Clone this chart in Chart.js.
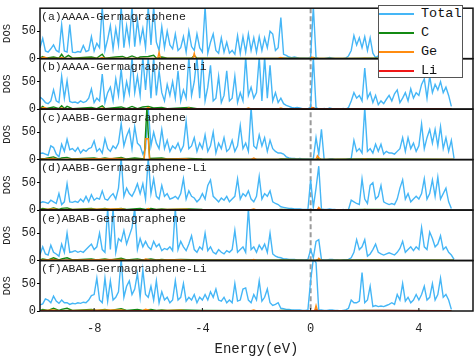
<!DOCTYPE html>
<html><head><meta charset="utf-8">
<script src="https://cdn.jsdelivr.net/npm/chart.js@4.4.1/dist/chart.umd.min.js"></script>
<style>
html,body{margin:0;padding:0;background:#fff;}
#wrap{position:relative;width:476px;height:359px;}
#legend{position:absolute;left:378px;top:5px;width:83px;height:71px;background:#fff;border:1px solid #555;font-family:"Liberation Mono",monospace;font-size:13.5px;color:#111;}
.row{position:absolute;left:0;width:83px;height:18px;}
.row .l{position:absolute;left:0;top:8px;width:35px;height:2px;}
.row .t{position:absolute;left:42px;top:0;line-height:18px;}
</style></head>
<body>
<div id="wrap">
<canvas id="c" width="476" height="359"></canvas>
<div id="legend"></div>
</div>
<script>
// ---------- data ----------
const panelNames = ['(a)AAAA-Germagraphene','(b)AAAA-Germagraphene-Li','(c)AABB-Germagraphene','(d)AABB-Germagraphene-Li','(e)ABAB-Germagraphene','(f)ABAB-Germagraphene-Li'];
const seriesNames = ['Total','C','Ge','Li'];
const xTicks = [-8,-4,0,4];
const yTicks = [0,50];
const energies = [
-10,-9.9,-9.8,-9.7,-9.6,-9.5,-9.4,-9.3,-9.2,-9.1,
-9,-8.9,-8.8,-8.7,-8.6,-8.5,-8.4,-8.3,-8.2,-8.1,
-8,-7.9,-7.8,-7.7,-7.6,-7.5,-7.4,-7.3,-7.2,-7.1,
-7,-6.9,-6.8,-6.7,-6.6,-6.5,-6.4,-6.3,-6.2,-6.1,
-6,-5.9,-5.8,-5.7,-5.6,-5.5,-5.4,-5.3,-5.2,-5.1,
-5,-4.9,-4.8,-4.7,-4.6,-4.5,-4.4,-4.3,-4.2,-4.1,
-4,-3.9,-3.8,-3.7,-3.6,-3.5,-3.4,-3.3,-3.2,-3.1,
-3,-2.9,-2.8,-2.7,-2.6,-2.5,-2.4,-2.3,-2.2,-2.1,
-2,-1.9,-1.8,-1.7,-1.6,-1.5,-1.4,-1.3,-1.2,-1.1,
-1,-0.9,-0.8,-0.7,-0.6,-0.5,-0.4,-0.3,-0.2,-0.1,
0,0.1,0.2,0.3,0.4,0.5,0.6,0.7,0.8,0.9,
1,1.1,1.2,1.3,1.4,1.5,1.6,1.7,1.8,1.9,
2,2.1,2.2,2.3,2.4,2.5,2.6,2.7,2.8,2.9,
3,3.1,3.2,3.3,3.4,3.5,3.6,3.7,3.8,3.9,
4,4.1,4.2,4.3,4.4,4.5,4.6,4.7,4.8,4.9,
5,5.1,5.2,5.3,5.4];

const totalA = [
20,37,14,12,18,25,15,12,62,14,
12,62,12,11,13,12,24,13,15,40,
14,28,20,95,15,35,60,18,55,25,
95,20,60,28,95,22,70,30,55,20,
95,25,95,30,15,58,20,50,25,18,
45,15,20,40,12,50,22,15,45,20,
12,95,10,30,45,15,10,38,12,30,
10,15,8,42,10,40,12,45,15,38,
12,40,15,38,20,50,45,15,20,75,
8,6,3,2,3,2,1,1,1,1,
2,95,2,0,0,0,1,2,1,0,
0,0,0,1,5,15,42,25,38,20,
40,15,38,10,2,5,10,15,20,12,
15,25,10,30,12,20,35,15,30,20,
45,20,50,30,55,25,45,30,50,25,
40,20,30,0,null];
const totalB = [
22,18,12,10,15,35,15,12,60,20,
52,14,12,13,11,15,12,14,20,37,
12,20,15,64,12,30,40,15,55,25,
73,20,50,28,95,30,60,25,95,35,
95,20,95,25,70,30,15,45,25,50,
20,70,15,35,20,95,25,50,95,20,
95,15,40,80,15,20,60,12,25,70,
15,20,60,12,30,15,95,25,40,20,
30,95,15,95,20,80,15,30,12,20,
10,7,5,3,2,3,2,1,1,1,
3,95,3,0,0,1,0,2,1,0,
0,0,1,0,3,15,30,20,25,15,
75,20,30,12,25,8,15,10,18,25,
15,28,35,12,20,30,15,37,20,30,
25,45,55,20,60,30,45,35,50,30,
40,25,5,null,null];
const totalC = [
11,12,10,8,25,22,10,5,28,15,
37,18,20,15,22,12,18,15,20,22,
34,15,20,12,38,20,15,25,20,30,
66,25,43,55,20,60,30,25,10,20,
95,25,50,30,20,55,20,35,15,25,
20,30,15,25,70,20,25,40,15,30,
20,45,15,25,50,12,30,20,40,15,
20,35,15,25,62,20,30,15,95,25,
20,45,25,40,15,35,20,15,12,12,
10,5,3,2,2,1,2,1,1,1,
1,2,40,10,55,0,0,1,1,0,
0,0,0,0,1,2,35,15,20,12,
95,15,20,12,28,15,28,10,15,12,
12,10,15,20,40,15,40,20,30,15,
25,65,20,40,55,30,55,25,60,20,
40,15,35,2,null];
const totalD = [
13,15,14,12,18,15,12,30,10,15,
48,15,14,16,14,20,15,25,15,28,
18,22,20,35,20,18,25,30,20,40,
95,25,40,30,25,35,48,30,48,20,
95,30,57,25,20,45,25,30,20,22,
25,20,30,57,20,35,25,22,15,20,
30,20,45,55,25,20,15,22,18,25,
15,20,25,57,20,30,25,35,20,15,
25,61,20,30,25,35,15,12,10,6,
5,4,3,3,2,2,2,1,1,1,
55,5,40,80,2,1,1,2,1,1,
0,0,1,0,1,18,15,12,10,57,
20,12,45,50,20,25,45,15,12,10,
12,10,20,40,55,20,30,15,20,25,
20,30,57,20,30,55,25,60,20,30,
40,15,3,null,null];
const totalE = [
11,25,12,10,28,15,12,8,30,15,
50,15,16,18,15,17,15,20,25,30,
20,25,50,20,15,95,20,95,15,40,
35,55,30,45,60,95,20,40,25,35,
25,20,35,25,30,18,22,20,25,18,
95,20,35,25,18,30,45,20,15,25,
20,50,18,25,15,12,20,15,12,18,
15,20,55,15,20,25,15,95,20,25,
15,28,20,30,15,50,12,8,6,5,
3,3,2,2,2,1,1,1,1,2,
20,5,35,38,2,1,1,2,2,1,
1,0,1,1,2,5,15,38,20,25,
38,8,12,20,30,15,12,10,12,14,
12,10,15,22,35,15,20,25,18,25,
20,60,25,20,52,40,25,30,45,20,
25,15,10,2,null];
const totalF = [
11,13,22,20,15,27,18,14,20,15,
15,12,14,13,15,14,16,15,20,28,
30,60,20,15,60,18,55,20,25,35,
95,25,45,55,30,40,68,25,75,30,
25,45,20,55,15,35,20,25,15,20,
55,20,25,50,18,25,20,30,15,25,
20,30,20,35,25,40,20,18,25,15,
20,15,50,18,20,40,42,20,15,30,
20,55,18,25,40,15,10,12,15,5,
4,3,3,2,2,2,2,1,1,2,
55,95,88,2,2,1,1,2,2,1,
1,0,1,2,5,20,15,15,18,70,
15,20,45,8,10,8,9,8,10,12,
15,12,30,20,50,18,25,15,20,30,
20,30,45,20,25,50,20,30,60,25,
30,20,3,null,null];

// partial DOS as [energy, value] pairs
const carbonA = [[-10,1],[-9.9,4],[-9.8,1],[-9.5,3],[-9.3,1],[-9.2,8],[-9.1,1],[-8.95,6],[-8.8,1],[-8.4,2],[-8.1,3],[-7.9,1],[-7.7,8],[-7.6,1],[-7.2,3],[-6.95,4],[-6.8,1],[-6.6,5],[-6.4,1],[-6.3,3],[-6,4],[-5.8,6],[-5.7,1],[-5.5,3],[-5.3,1],[-4.4,1],[-4.3,6],[-4.2,1],[-3.5,1],[-2,0.5],[-1.2,0.5],[-1.1,1],[0,0.3],[0.1,2],[0.2,0.2],[1.5,0.5],[2.2,1],[5.3,0.5]];
const carbonB = [[-10,1],[-9.9,5],[-9.8,1],[-9.5,4],[-9.3,1],[-9.2,6],[-9.1,1],[-9,5],[-8.8,1],[-8.1,3],[-7.9,1],[-7.7,6],[-7.6,1],[-7,4],[-6.8,1],[-6.6,5],[-6.4,1],[-6.2,4],[-6,5],[-5.8,2],[-5.5,3],[-5.3,1],[-4.5,3],[-4.2,1],[-3.5,1],[-2,0.5],[-1.2,0.5],[-1.1,1],[0,0.3],[0.1,2],[0.2,0.2],[2,1],[5.2,0.5]];
const carbonC = [[-10,1],[-9.8,2],[-9.5,5],[-9.3,1],[-9.2,3],[-9,4],[-8.8,1],[-8.4,2],[-8,3],[-7.8,1],[-7.6,3],[-7.4,1],[-7,4],[-6.8,1],[-6.5,3],[-6.15,1],[-6.05,95],[-5.95,2],[-5.5,3],[-5.3,1],[-4.5,2],[-4,1],[-2,0.5],[-1.2,0.5],[-1.1,1],[0,0.3],[0.2,0.3],[0.3,2],[0.4,0.2],[2,1],[5.3,0.5]];
const carbonD = [[-10,1],[-9.9,3],[-9.7,1],[-9.5,4],[-9.3,1],[-9.2,3],[-9,4],[-8.8,1],[-8.1,3],[-7.9,1],[-7.6,3],[-7.4,1],[-7,3],[-6.8,1],[-6.3,3],[-6.1,1],[-5.9,3],[-5.7,1],[-5.5,2],[-5.3,1],[-4.5,2],[-4,1],[-2,0.5],[-1.2,0.5],[-1.1,1],[0,0.3],[0.2,0.3],[0.3,2],[0.4,0.2],[2,1],[5.1,0.5]];
const carbonE = [[-10,1],[-9.9,3],[-9.7,1],[-9.5,5],[-9.3,1],[-9.2,3],[-9,5],[-8.8,1],[-8.1,3],[-7.9,1],[-7.6,3],[-7.4,1],[-7,4],[-6.8,1],[-6.4,3],[-6.2,1],[-5.9,3],[-5.7,1],[-5.5,2],[-5.3,1],[-4.8,2],[-4,1],[-2,0.5],[-1.2,0.5],[-1.1,1],[0,0.3],[0.2,0.3],[0.3,2],[0.4,0.2],[2,1],[5.3,0.5]];
const carbonF = [[-10,1],[-9.9,3],[-9.7,1],[-9.5,5],[-9.3,1],[-9.2,3],[-9,5],[-8.8,1],[-8.1,3],[-7.9,1],[-7.6,3],[-7.4,1],[-7,4],[-6.8,1],[-6.4,3],[-6.2,1],[-5.9,3],[-5.7,1],[-5.5,2],[-5.3,1],[-4.8,2],[-4,1],[-2,0.5],[-1.2,0.5],[-1.1,1],[0,0.3],[0.1,0.3],[0.2,2],[0.3,0.2],[2,1],[5.2,0.5]];
const germA = [[-10,0.5],[-9.85,3],[-9.7,0.5],[-9.3,0.5],[-9.2,2],[-9.1,0.5],[-7.8,0.5],[-7.7,2],[-7.6,0.5],[-5.65,0.5],[-5.6,12],[-5.55,0.5],[-4.35,0.5],[-4.3,10],[-4.25,0.5],[-1.2,0.5],[-1.1,2],[-1,0.3],[0,0.3],[0.05,3],[0.15,0.2],[1.9,0.2],[2,1],[2.1,0.2],[5.3,0.3]];
const germB = [[-10,0.5],[-9.85,3],[-9.7,0.5],[-9.3,0.5],[-9.2,2],[-9.1,0.5],[-7.8,0.5],[-7.7,2],[-7.6,0.5],[-6.1,0.5],[-6,3],[-5.9,0.5],[-4.6,0.5],[-4.5,2],[-4.4,0.5],[-2.4,0.5],[-2.3,2],[-2.2,0.5],[-1.2,0.5],[-1.1,2],[-1,0.3],[0,0.3],[0.05,3],[0.15,0.2],[1.9,0.2],[2,1],[2.1,0.2],[5.2,0.3]];
const germC = [[-10,0.5],[-9.5,2],[-9.3,0.5],[-8,1.5],[-7,2],[-6.8,0.5],[-6.15,0.5],[-6.1,38],[-6,38],[-5.95,0.5],[-4.6,1.5],[-4.4,0.5],[-2.2,0.5],[-2.1,3],[-2,0.3],[0.2,0.3],[0.25,7],[0.35,0.2],[1.9,0.2],[2,1],[2.1,0.2],[5.3,0.3]];
const germD = [[-10,0.5],[-9.5,2],[-9.3,0.5],[-8,1.5],[-7,2],[-6.8,0.5],[-6.1,0.5],[-6,3],[-5.9,0.5],[-4.6,1.5],[-4.4,0.5],[-2.2,0.5],[-2.1,2],[-2,0.3],[0.25,0.3],[0.3,5],[0.4,0.2],[1.9,0.2],[2,1],[2.1,0.2],[5.1,0.3]];
const germE = [[-10,0.5],[-9.5,2],[-9.3,0.5],[-8,1.5],[-7,2],[-6.8,0.5],[-6.2,0.5],[-6.1,3],[-5.9,0.5],[-4.8,1.5],[-4.6,0.5],[-2.2,0.5],[-2.1,2],[-2,0.3],[0.25,0.3],[0.3,4],[0.4,0.2],[1.9,0.2],[2,1],[2.1,0.2],[5.3,0.3]];
const germF = [[-10,0.5],[-9.5,2],[-9.3,0.5],[-8,1.5],[-7,2],[-6.8,0.5],[-6.2,0.5],[-6.1,3],[-5.9,0.5],[-4.8,1.5],[-4.6,0.5],[-2.2,0.5],[-2.1,2],[-2,0.3],[0.15,0.3],[0.2,10],[0.25,1],[0.4,0.2],[1.9,0.2],[2,1],[2.1,0.2],[5.2,0.3]];
const lithB = [[-10,0.3],[-5,0.5],[0,0.3],[0.1,1.5],[0.2,0.2],[2.7,0.8],[4.5,0.5],[5.2,0.3]];
const lithD = [[-10,0.3],[-5,0.5],[0.2,0.3],[0.3,1.5],[0.4,0.2],[2.7,0.8],[4.5,0.5],[5.1,0.3]];
const lithF = [[-10,0.3],[-5,0.5],[0.1,0.3],[0.2,1.5],[0.3,0.2],[2.7,0.8],[4.5,0.5],[5.2,0.3]];

const totals = [totalA,totalB,totalC,totalD,totalE,totalF];
const carbons = [carbonA,carbonB,carbonC,carbonD,carbonE,carbonF];
const germs = [germA,germB,germC,germD,germE,germF];
const liths = [null,lithB,null,lithD,null,lithF];

// ---------- styles ----------
const COLORS = {Total:'#45b6f6', C:'#138a13', Ge:'#ff8c10', Li:'#f01818'};
const MONO = '"Liberation Mono", "DejaVu Sans Mono", monospace';
const axisIds = ['ya','yb','yc','yd','ye','yf'];

// legend (HTML)
const leg = document.getElementById('legend');
seriesNames.forEach((n,i)=>{
  const r = document.createElement('div'); r.className='row'; r.style.top=(i*19-1)+'px';
  const l = document.createElement('span'); l.className='l'; l.style.background=COLORS[n];
  const t = document.createElement('span'); t.className='t'; t.textContent=n;
  r.appendChild(l); r.appendChild(t); leg.appendChild(r);
});

const toXY = arr => energies.map((e,i)=>({x:e,y:arr[i]}));
const pairs = arr => arr.map(p=>({x:p[0],y:p[1]}));

const datasets = [];
for (let i=0;i<6;i++){
  datasets.push({label:'Total',data:toXY(totals[i]),yAxisID:axisIds[i],borderColor:COLORS.Total,borderWidth:1.4,pointRadius:0,order:4,spanGaps:false});
  datasets.push({label:'C',data:pairs(carbons[i]),yAxisID:axisIds[i],borderColor:COLORS.C,borderWidth:1.4,pointRadius:0,order:3});
  datasets.push({label:'Ge',data:pairs(germs[i]),yAxisID:axisIds[i],borderColor:COLORS.Ge,borderWidth:1.4,pointRadius:0,order:2});
  if (liths[i]) datasets.push({label:'Li',data:pairs(liths[i]),yAxisID:axisIds[i],borderColor:COLORS.Li,borderWidth:1.4,pointRadius:0,order:1});
}

const scales = {
  x:{type:'linear',min:-10,max:6,
     afterBuildTicks:s=>{s.ticks=xTicks.map(v=>({value:v}));},
     afterFit:s=>{s.height=48;},
     grid:{display:false,drawTicks:false},
     border:{display:false},
     ticks:{padding:11,color:'#222',font:{family:MONO,size:12},callback:v=>String(v)},
     title:{display:true,text:'Energy(eV)',color:'#222',font:{family:MONO,size:14},padding:{top:0,bottom:1}}
  }
};
for (let i=5;i>=0;i--){
  scales[axisIds[i]] = {type:'linear',position:'left',stack:'panels',stackWeight:1,min:0,max:92,
    afterBuildTicks:s=>{s.ticks=yTicks.map(v=>({value:v}));},
    afterFit:s=>{s.width=40;},
    grid:{display:true,drawOnChartArea:false,drawTicks:true,tickLength:3,color:'#000',lineWidth:1},
    border:{display:false},
    ticks:{padding:1,color:'#222',font:{family:MONO,size:12},autoSkip:false,maxRotation:0},
    title:{display:true,text:'DOS',color:'#222',font:{family:MONO,size:10.5},padding:{top:1,bottom:0}}
  };
}

const deco = {
  id:'deco',
  beforeDatasetsDraw(chart){
    const ctx=chart.ctx, ca=chart.chartArea, px=chart.scales.x.getPixelForValue(0);
    ctx.save(); ctx.strokeStyle='#9a9a9a'; ctx.lineWidth=2; ctx.setLineDash([5,3]);
    ctx.beginPath(); ctx.moveTo(px,ca.top); ctx.lineTo(px,ca.bottom); ctx.stroke(); ctx.restore();
  },
  afterDatasetsDraw(chart){
    const ctx=chart.ctx, ca=chart.chartArea, xs=chart.scales.x;
    ctx.save();
    ctx.fillStyle='#222'; ctx.font='11.5px '+MONO; ctx.textBaseline='middle'; ctx.textAlign='left';
    axisIds.forEach((id,i)=>{ const s=chart.scales[id]; ctx.fillText(panelNames[i], ca.left+1, s.top+8.5); });
    ctx.strokeStyle='#111'; ctx.lineWidth=1.5;
    axisIds.forEach(id=>{ const s=chart.scales[id]; ctx.strokeRect(ca.left, s.top, ca.right-ca.left, s.bottom-s.top); });
    ctx.lineWidth=1;
    xTicks.forEach(v=>{ const p=xs.getPixelForValue(v); ctx.beginPath(); ctx.moveTo(p,ca.bottom); ctx.lineTo(p,ca.bottom-3); ctx.stroke(); });
    ctx.restore();
  }
};

new Chart(document.getElementById('c'),{
  type:'line',
  data:{datasets},
  options:{responsive:false,animation:false,
    layout:{padding:{left:0,top:4,right:3,bottom:0}},
    plugins:{legend:{display:false},tooltip:{enabled:false}},
    elements:{line:{tension:0}},
    scales
  },
  plugins:[deco]
});
</script>
</body></html>
